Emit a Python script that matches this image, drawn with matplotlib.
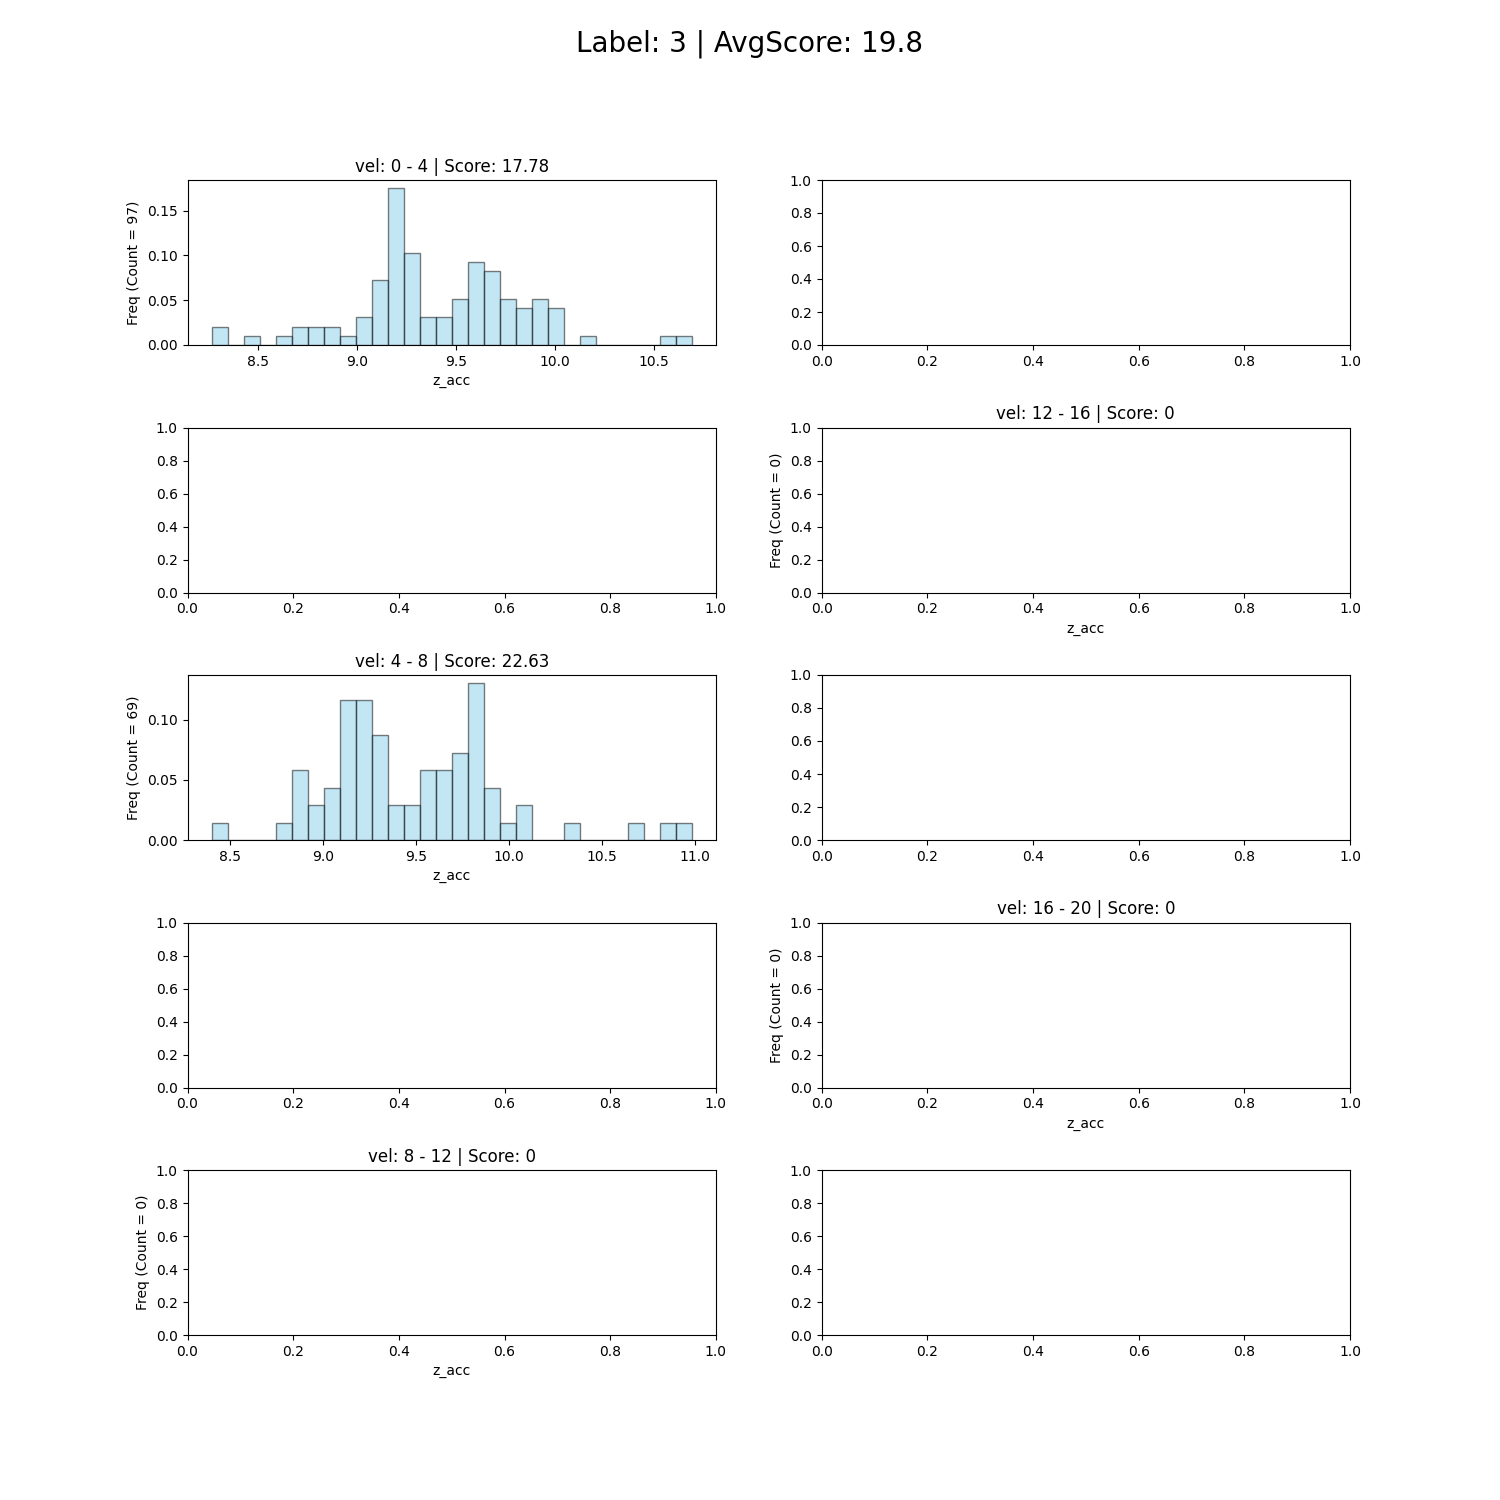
import matplotlib
matplotlib.use("Agg")
import matplotlib.pyplot as plt
import numpy as np

# 速度區間直方圖（每格 30 bins，頻率 = count / total）
vel_labels = ["vel: 0 - 4", "vel: 4 - 8", "vel: 8 - 12", "vel: 12 - 16", "vel: 16 - 20"]
scores = ["17.78", "22.63", "0", "0", "0"]
panel_pos = [(0, 0), (2, 0), (4, 0), (1, 1), (3, 1)]

range_0_4 = (8.268, 10.69)
counts_0_4 = [2, 0, 1, 0, 1, 2, 2, 2, 1, 3, 7, 17, 10, 3, 3,
              5, 9, 8, 5, 4, 5, 4, 0, 1, 0, 0, 0, 0, 1, 1]
range_4_8 = (8.403, 10.984)
counts_4_8 = [1, 0, 0, 0, 1, 4, 2, 3, 8, 8, 6, 2, 2, 4, 4,
              5, 9, 3, 1, 2, 0, 0, 1, 0, 0, 0, 1, 0, 1, 1]
hist_data = [(range_0_4, counts_0_4), (range_4_8, counts_4_8), None, None, None]

fig, axes = plt.subplots(5, 2, figsize=(15, 15))
fig.subplots_adjust(hspace=0.5)
fig.suptitle("Label: 3 | AvgScore: 19.8", fontsize=20)

for lab, sc, (r, c), hd in zip(vel_labels, scores, panel_pos, hist_data):
    ax = axes[r, c]
    n = 0
    if hd is not None:
        (lo, hi), cnt = hd
        cnt = np.array(cnt)
        n = cnt.sum()
        edges = np.linspace(lo, hi, len(cnt) + 1)
        ax.bar(edges[:-1], cnt / n, width=np.diff(edges), align="edge",
               color="skyblue", edgecolor="black", alpha=0.5)
    ax.set_title(f"{lab} | Score: {sc}")
    ax.set_xlabel("z_acc")
    ax.set_ylabel(f"Freq (Count = {n})")

fig.savefig("out.png", dpi=100)
